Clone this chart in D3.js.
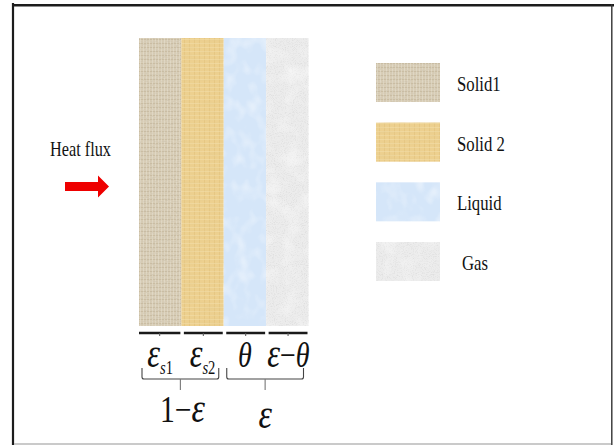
<!DOCTYPE html>
<html><head><meta charset="utf-8">
<script src="https://cdn.jsdelivr.net/npm/d3@7"></script>
<style>html,body{margin:0;padding:0;background:#fff;}svg{display:block;}</style>
</head><body>
<script>
// ---- data ----
const layers = ["Solid1", "Solid 2", "Liquid", "Gas"];
const layerShares = [1, 1, 1, 1];           // equal-width columns in the sketch
const layerSymbols = [
  [{t:"ε",i:true},{t:"s",i:true,sub:true},{t:"1",sub:true}],
  [{t:"ε",i:true},{t:"s",i:true,sub:true},{t:"2",sub:true}],
  [{t:"θ",i:true}],
  [{t:"ε",i:true},{t:"−"},{t:"θ",i:true}]
];
const groups = [
  {label:[{t:"1"},{t:"−"},{t:"ε",i:true}], from:0, to:1},
  {label:[{t:"ε",i:true}], from:2, to:3}
];
const fluxLabel = "Heat flux";

// ---- styles ----
const W = 614, H = 445;
const baseColors = ["#d8cdb6", "#edd08f", "#d5e6f9", "#ececec"];
const serif = "'Liberation Serif','Times New Roman',serif";

const svg = d3.select("body").append("svg").attr("width", W).attr("height", H);
const defs = svg.append("defs");

function addNoise(id, freq, color, a, b, seed){
  const f = defs.append("filter").attr("id", id).attr("x",0).attr("y",0).attr("width","100%").attr("height","100%");
  f.append("feTurbulence").attr("type","fractalNoise").attr("baseFrequency",freq).attr("numOctaves",2).attr("seed",seed);
  const c = d3.rgb(color);
  f.append("feColorMatrix").attr("type","matrix")
   .attr("values",`0 0 0 0 ${c.r/255} 0 0 0 0 ${c.g/255} 0 0 0 0 ${c.b/255} ${a} 0 0 0 ${b}`);
}
addNoise("n0", "0.5 0.7", "#8f7f62", 2.2, -0.95, 2);
addNoise("n1", "0.04 0.5", "#c99a45", 2.2, -0.95, 5);
addNoise("n2", "0.08 0.06", "#ffffff", 2.0, -0.9, 7);
addNoise("n3", "0.9 0.9", "#9a9a9a", 2.4, -1.15, 11);
addNoise("n3b", "0.06 0.06", "#ffffff", 2.0, -0.9, 13);

const p0 = defs.append("pattern").attr("id","p0").attr("patternUnits","userSpaceOnUse").attr("width",3).attr("height",4);
p0.append("rect").attr("width",3).attr("height",4).attr("fill",baseColors[0]);
p0.append("rect").attr("y",3).attr("width",3).attr("height",1).attr("fill","#c3b498").attr("opacity",0.65);
p0.append("rect").attr("x",2).attr("width",1).attr("height",4).attr("fill","#e6dfcf").attr("opacity",0.6);
const p1 = defs.append("pattern").attr("id","p1").attr("patternUnits","userSpaceOnUse").attr("width",5).attr("height",4);
p1.append("rect").attr("width",5).attr("height",4).attr("fill",baseColors[1]);
p1.append("rect").attr("x",4).attr("width",1).attr("height",4).attr("fill","#dfbc74").attr("opacity",0.45);
p1.append("rect").attr("y",3).attr("width",5).attr("height",1).attr("fill","#f4e0ad").attr("opacity",0.5);
const fills = ["url(#p0)","url(#p1)",baseColors[2],baseColors[3]];
const overlays = [["n0"],["n1"],["n2"],["n3","n3b"]];

function texturedRect(g, i, x, y, w, h){
  g.append("rect").attr("x",x).attr("y",y).attr("width",w).attr("height",h).attr("fill",fills[i]);
  overlays[i].forEach(fid => {
    g.append("rect").attr("x",x).attr("y",y).attr("width",w).attr("height",h)
     .attr("fill","#fff").attr("filter",`url(#${fid})`).attr("opacity",0.5);
  });
}

// frame
svg.append("line").attr("x1",13).attr("x2",13).attr("y1",3).attr("y2",H).attr("stroke","#1c1c1c").attr("stroke-width",2.2);
svg.append("line").attr("x1",12).attr("x2",W).attr("y1",5.2).attr("y2",5.2).attr("stroke","#1c1c1c").attr("stroke-width",2.6);
svg.append("line").attr("x1",611.8).attr("x2",611.8).attr("y1",4).attr("y2",H).attr("stroke","#333").attr("stroke-width",1.4);
svg.append("line").attr("x1",14).attr("x2",611).attr("y1",444).attr("y2",444).attr("stroke","#b8b8b8").attr("stroke-width",1.5);

const cum = d3.cumsum(layerShares);
const total = d3.sum(layerShares);
const x = d3.scaleLinear().domain([0,total]).range([139, 308.5]);
const x0 = i => x(cum[i]-layerShares[i]);
const x1 = i => x(cum[i]);
const colTop = 38, colBottom = 326;

const cols = svg.append("g");
layers.forEach((d,i) => texturedRect(cols, i, x0(i), colTop, x1(i)-x0(i), colBottom-colTop));

const segY = 333;
layers.forEach((d,i) => {
  const a = x0(i)+ (i===0?0:2.5), b = x1(i) - 1;
  svg.append("line").attr("x1",a).attr("x2",b).attr("y1",segY).attr("y2",segY).attr("stroke","#1a1a1a").attr("stroke-width",2.4);
  const m = (a+b)/2;
  svg.append("line").attr("x1",m).attr("x2",m).attr("y1",segY).attr("y2",segY+3).attr("stroke","#555").attr("stroke-width",1);
});

function mathText(g, parts, cx, baseline, size, sx){
  const t = g.append("text").attr("font-family",serif).attr("font-size",size).attr("fill","#111")
    .attr("text-anchor","middle").attr("transform",`translate(${cx},${baseline}) scale(${sx},1)`);
  let prevSub = false;
  parts.forEach(p => {
    const ts = t.append("tspan").text(p.t);
    if (p.i) ts.attr("font-style","italic");
    if (p.t === "ε") ts.attr("font-size", size*1.15);
    if (p.sub) ts.attr("font-size", size*0.52);
    if (p.sub && !prevSub) ts.attr("dy", size*0.19);
    if (!p.sub && prevSub) ts.attr("dy", -size*0.19);
    prevSub = !!p.sub;
  });
  return t;
}

const labY = 367;
layers.forEach((d,i) => {
  const cx = (x0(i)+x1(i))/2 + (i===3 ? 1 : 0);
  mathText(svg, layerSymbols[i], cx, labY, 36, 0.78);
});

groups.forEach(gr => {
  const a = x0(gr.from)+3, b = x1(gr.to)-5, yT = 368, yB = 379, m = (a+b)/2;
  const p = d3.path();
  p.moveTo(a, yT); p.lineTo(a, yB-2); p.quadraticCurveTo(a, yB, a+2, yB);
  p.lineTo(b-2, yB); p.quadraticCurveTo(b, yB, b, yB-2); p.lineTo(b, yT);
  svg.append("path").attr("d", p.toString()).attr("fill","none").attr("stroke","#444").attr("stroke-width",1.1);
  svg.append("line").attr("x1",m).attr("x2",m).attr("y1",yB).attr("y2",390).attr("stroke","#777").attr("stroke-width",1.1);
  const by = gr.label.length > 1 ? 422 : 428;
  mathText(svg, gr.label, m + (gr.label.length>1?2:0), by, 37, 0.8);
});

svg.append("text").attr("font-family",serif).attr("font-size",22).attr("fill","#111")
  .attr("transform","translate(50,156) scale(0.74,1)").text(fluxLabel);
const ar = d3.path();
ar.moveTo(65,182); ar.lineTo(98,182); ar.lineTo(98,175.5); ar.lineTo(109,186.5); ar.lineTo(98,197.5); ar.lineTo(98,191); ar.lineTo(65,191); ar.closePath();
svg.append("path").attr("d",ar.toString()).attr("fill","#ee0000");

const ly = d3.scalePoint().domain(layers).range([63, 242]);
const lg = svg.append("g");
layers.forEach((d,i) => {
  const y = ly(d);
  texturedRect(lg, i, 376, y, 64, 39);
  lg.append("text").attr("font-family",serif).attr("font-size",22).attr("fill","#111")
    .attr("transform",`translate(${d==="Gas"?462:457},${y+28}) scale(0.76,1)`).text(d);
});
</script>
</body></html>
